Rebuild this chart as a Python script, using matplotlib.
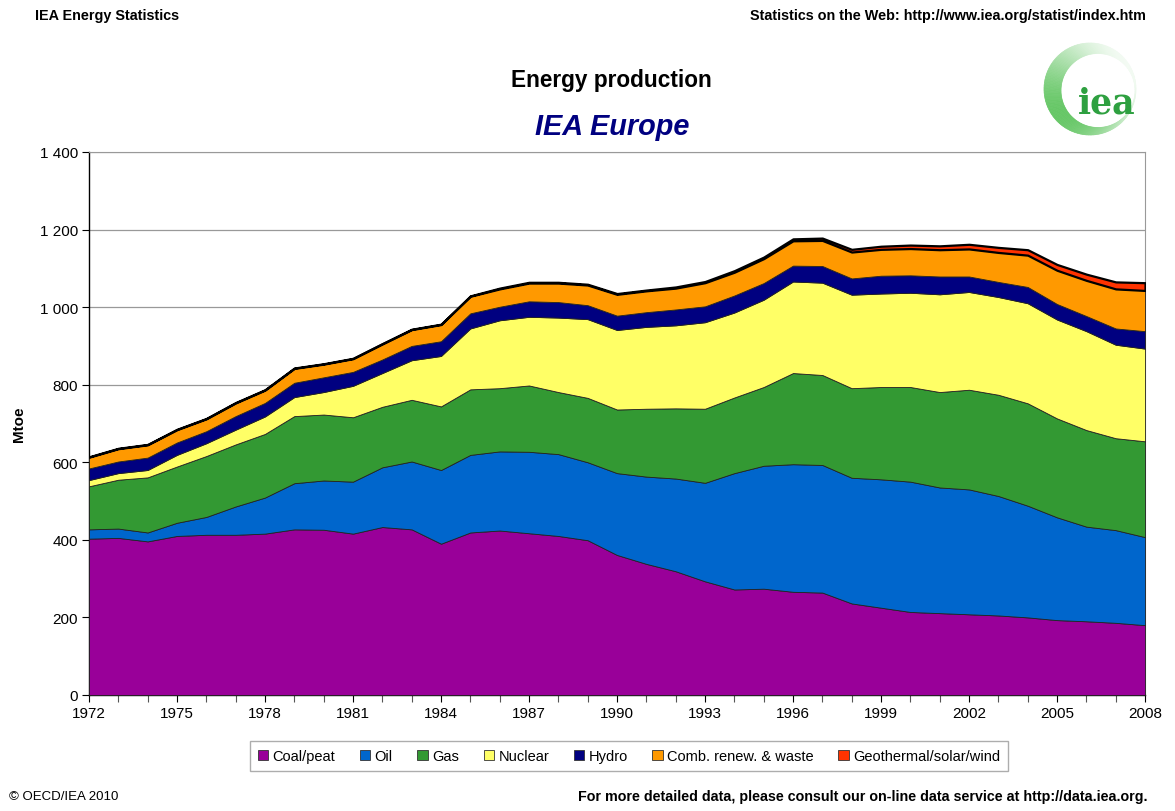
import numpy as np
import matplotlib
matplotlib.use('Agg')
import matplotlib.pyplot as plt
from matplotlib.patches import Patch, Polygon
from matplotlib.ticker import FuncFormatter, MultipleLocator

plt.rcParams['font.family'] = ['Liberation Sans', 'DejaVu Sans']

years = list(range(1972, 2009))

# Mtoe
coal = [403, 405, 396, 410, 413, 413, 416, 427, 426, 416, 433, 427, 390,
        419, 424, 417, 410, 399, 361, 338, 319, 293, 272, 274, 266, 264,
        236, 225, 214, 211, 208, 205, 200, 193, 190, 186, 180]
oil = [24, 24, 23, 34, 46, 73, 93, 119, 127, 134, 154, 175, 190,
       200, 204, 210, 211, 201, 211, 225, 239, 254, 300, 317, 329, 329,
       324, 331, 336, 324, 322, 308, 288, 265, 244, 239, 227]
gas = [111, 126, 142, 145, 157, 160, 164, 173, 170, 166, 156, 159, 164,
       169, 163, 171, 160, 166, 164, 175, 181, 191, 195, 203, 235, 232,
       231, 238, 244, 246, 257, 261, 264, 255, 249, 237, 247]
nuclear = [16, 17, 19, 30, 33, 38, 45, 49, 58, 81, 87, 102, 130,
           157, 175, 177, 192, 203, 205, 211, 214, 223, 219, 225, 236, 238,
           241, 241, 243, 252, 252, 252, 258, 255, 255, 241, 239]
hydro = [30, 30, 32, 32, 31, 35, 35, 37, 38, 36, 35, 37, 38,
         39, 35, 40, 40, 36, 37, 38, 41, 41, 44, 43, 41, 43,
         42, 46, 45, 46, 40, 39, 42, 40, 39, 42, 45]
comb = [29, 33, 33, 33, 32, 34, 33, 37, 34, 34, 40, 42, 43,
        44, 46, 47, 49, 52, 55, 55, 55, 61, 60, 63, 64, 66,
        68, 68, 69, 69, 71, 76, 82, 87, 92, 102, 105]
geo = [1, 1, 1, 1, 1, 1, 1, 1, 1, 1, 1, 1, 1,
       1, 2, 2, 2, 2, 2, 2, 3, 3, 4, 4, 5, 6,
       7, 8, 9, 10, 12, 13, 14, 15, 16, 18, 20]

labels = ['Coal/peat', 'Oil', 'Gas', 'Nuclear', 'Hydro',
          'Comb. renew. & waste', 'Geothermal/solar/wind']
colors = ['#990099', '#0066CC', '#339933', '#FFFF66', '#000080',
          '#FF9900', '#FF3300']

fig = plt.figure(figsize=(11.75, 8.12), dpi=100)
ax = fig.add_axes([0.0757, 0.1429, 0.8988, 0.6687])

series = [coal, oil, gas, nuclear, hydro, comb, geo]
polys = ax.stackplot(years, *series, colors=colors, edgecolor='#222222',
                     linewidth=0.6, zorder=3)
# thicker black rim on the top band
polys[-1].set_linewidth(1.6)
polys[-1].set_edgecolor('black')

ax.set_xlim(1972, 2008)
ax.set_ylim(0, 1400)
ax.yaxis.set_major_locator(MultipleLocator(200))
ax.yaxis.set_major_formatter(FuncFormatter(lambda v, p: f'{int(v):,}'.replace(',', ' ')))
ax.set_xticks(years, minor=True)
ax.set_xticks(years[::3])
ax.tick_params(axis='both', labelsize=11, direction='out', length=5, width=0.8, pad=3)
ax.tick_params(axis='x', which='minor', length=5, width=0.8, color='#555555')
ax.grid(axis='y', color='#999999', linewidth=0.9, zorder=0)
ax.set_axisbelow(True)
for side in ['top', 'right']:
    ax.spines[side].set_color('#999999')
for side in ['left', 'bottom']:
    ax.spines[side].set_color('black')
    ax.spines[side].set_linewidth(1.0)

ax.set_ylabel('Mtoe', fontsize=11, fontweight='bold', labelpad=10)

handles = [Patch(facecolor=c, edgecolor='#333333', linewidth=0.6) for c in colors]
leg = fig.legend(handles, labels, loc='center', ncol=7,
                 bbox_to_anchor=(629 / 1175, 1 - 757 / 812), fontsize=10.5,
                 frameon=True, fancybox=False, edgecolor='#999999',
                 handlelength=0.7, handleheight=0.7, handletextpad=0.3,
                 columnspacing=1.7, borderpad=0.55)
leg.get_frame().set_linewidth(1.0)

fig.text(0.030, 1 - 16 / 812, 'IEA Energy Statistics', fontsize=10.4,
         fontweight='bold', va='center', ha='left')
fig.text(1146 / 1175, 1 - 16 / 812,
         'Statistics on the Web: http://www.iea.org/statist/index.htm',
         fontsize=10.4, fontweight='bold', va='center', ha='right')
fig.text(611 / 1175, 1 - 81 / 812, 'Energy production', fontsize=16.3,
         fontweight='bold', va='center', ha='center')
fig.text(612 / 1175, 1 - 127 / 812, 'IEA Europe', fontsize=20.8,
         fontweight='bold', style='italic', color='#000080',
         va='center', ha='center')
fig.text(0.008, 1 - 797 / 812, '\u00a9 OECD/IEA 2010', fontsize=9.5,
         va='center', ha='left')
fig.text(1147 / 1175, 1 - 797 / 812,
         'For more detailed data, please consult our on-line data service at http://data.iea.org.',
         fontsize=10.3, fontweight='bold', va='center', ha='right')

# iea logo: green crescent fading towards the top right, plus the letters
lax = fig.add_axes([1040 / 1175, 1 - 140 / 812, 100 / 1175, 100 / 812])
lax.set_xlim(-1, 1)
lax.set_ylim(-1, 1)
lax.axis('off')
green = np.array([0.40, 0.78, 0.40])
th = np.linspace(0, 2 * np.pi, 181)
R, r, dx, dy = 0.92, 0.74, 0.16, -0.03
for i in range(len(th) - 1):
    t = th[i:i + 2]
    w = 0.5 + 0.5 * np.cos(th[i] - np.radians(215))
    a = 0.08 + 0.92 * w ** 1.3
    col = 1 - a * (1 - green)   # blend with white, no alpha seams
    outer = np.column_stack([R * np.cos(t), R * np.sin(t)])
    inner = np.column_stack([dx + r * np.cos(t[::-1]), dy + r * np.sin(t[::-1])])
    lax.add_patch(Polygon(np.vstack([outer, inner]), closed=True,
                          facecolor=col, edgecolor=col, linewidth=0.5))
lax.text(0.33, -0.26, 'iea', fontsize=25, fontweight='bold',
         family=['DejaVu Serif'], color='#2EA040', ha='center', va='center')

fig.savefig('out.png', dpi=100)
